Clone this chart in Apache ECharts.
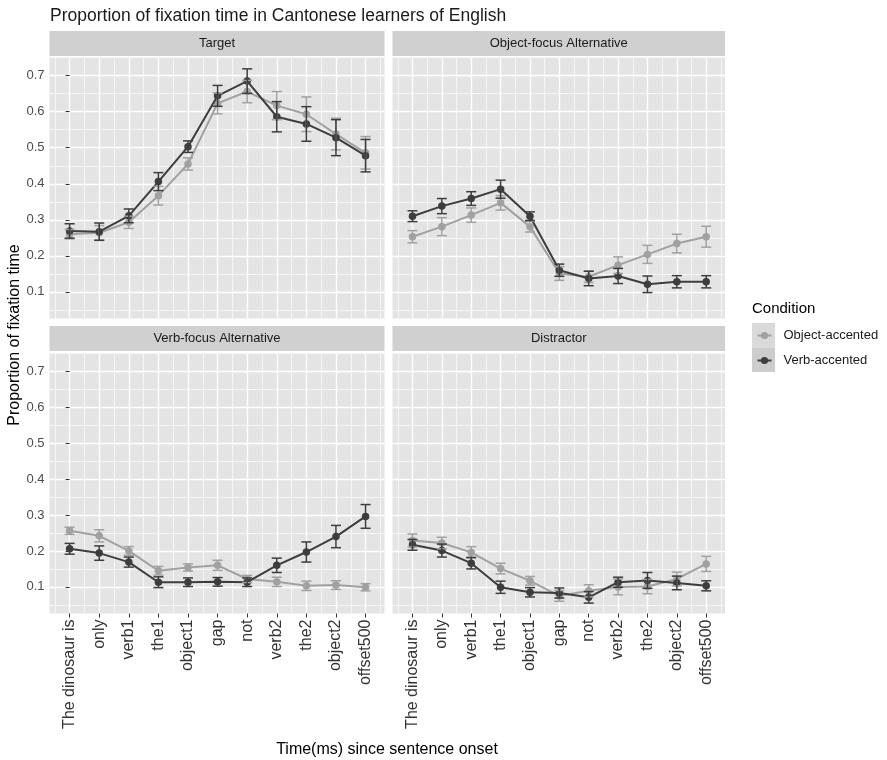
<!DOCTYPE html>
<html>
<head>
<meta charset="utf-8">
<script src="https://cdn.jsdelivr.net/npm/echarts@6/dist/echarts.min.js"></script>
<style>
  html, body { margin: 0; padding: 0; background: #ffffff; }
  #chart { width: 887px; height: 760px; }
</style>
</head>
<body>
<div id="chart"></div>
<script>
// Word regions along the sentence (x axis)
const categories = ['The dinosaur is', 'only', 'verb1', 'the1', 'object1', 'gap', 'not', 'verb2', 'the2', 'object2', 'offset500'];
// Facet titles
const panelNames = ['Target', 'Object-focus Alternative', 'Verb-focus Alternative', 'Distractor'];
const conditions = ['Object-accented', 'Verb-accented'];
const yTicks = [0.1, 0.2, 0.3, 0.4, 0.5, 0.6, 0.7];

// Target
const targetObj    = [0.260, 0.264, 0.293, 0.367, 0.455, 0.623, 0.656, 0.617, 0.593, 0.538, 0.486];
const targetObjSE  = [0.013, 0.020, 0.017, 0.026, 0.017, 0.029, 0.031, 0.039, 0.048, 0.044, 0.045];
const targetVerb   = [0.269, 0.267, 0.311, 0.406, 0.503, 0.644, 0.685, 0.586, 0.566, 0.528, 0.478];
const targetVerbSE = [0.020, 0.024, 0.019, 0.025, 0.016, 0.029, 0.034, 0.042, 0.048, 0.050, 0.045];

// Object-focus Alternative
const objFocusObj    = [0.253, 0.281, 0.313, 0.347, 0.281, 0.151, 0.142, 0.174, 0.204, 0.234, 0.253];
const objFocusObjSE  = [0.017, 0.025, 0.020, 0.020, 0.015, 0.019, 0.016, 0.023, 0.025, 0.026, 0.029];
const objFocusVerb   = [0.310, 0.338, 0.359, 0.385, 0.310, 0.160, 0.137, 0.144, 0.121, 0.128, 0.128];
const objFocusVerbSE = [0.015, 0.021, 0.019, 0.025, 0.012, 0.017, 0.020, 0.021, 0.023, 0.017, 0.017];

// Verb-focus Alternative
const verbFocusObj    = [0.256, 0.242, 0.200, 0.145, 0.154, 0.160, 0.122, 0.114, 0.103, 0.105, 0.099];
const verbFocusObjSE  = [0.010, 0.017, 0.012, 0.012, 0.010, 0.014, 0.010, 0.013, 0.013, 0.012, 0.010];
const verbFocusVerb   = [0.206, 0.194, 0.169, 0.113, 0.113, 0.114, 0.113, 0.160, 0.197, 0.240, 0.296];
const verbFocusVerbSE = [0.015, 0.020, 0.014, 0.015, 0.012, 0.012, 0.012, 0.020, 0.028, 0.031, 0.033];

// Distractor
const distObj    = [0.229, 0.222, 0.196, 0.151, 0.117, 0.075, 0.089, 0.100, 0.101, 0.122, 0.164];
const distObjSE  = [0.018, 0.016, 0.016, 0.015, 0.012, 0.015, 0.017, 0.022, 0.020, 0.019, 0.021];
const distVerb   = [0.217, 0.201, 0.166, 0.099, 0.085, 0.083, 0.071, 0.113, 0.118, 0.111, 0.103];
const distVerbSE = [0.015, 0.018, 0.016, 0.017, 0.013, 0.014, 0.016, 0.014, 0.022, 0.019, 0.014];

const panelData = [
  [[targetObj, targetObjSE], [targetVerb, targetVerbSE]],
  [[objFocusObj, objFocusObjSE], [objFocusVerb, objFocusVerbSE]],
  [[verbFocusObj, verbFocusObjSE], [verbFocusVerb, verbFocusVerbSE]],
  [[distObj, distObjSE], [distVerb, distVerbSE]]
];

const FONT = "'Liberation Sans', Arial, Helvetica, sans-serif";
const COLORS = ['#a1a1a1', '#3d3d3d'];
const X_MIN = -0.68, X_MAX = 10.64;
const Y_MIN = 0.026, Y_MAX = 0.7505;

// Facet layout: column and row positions
const colLeft = [49.5, 392.5], colWidth = [335, 332.5];
const rowTop = [57.5, 353], rowHeight = [261, 260.5];
const stripTop = [31, 326], stripHeight = 25;

const majorX = categories.map((c, i) => i);
const minorX = [];
for (let i = -1; i < categories.length; i++) minorX.push(i + 0.5);
const minorY = [0.05, 0.15, 0.25, 0.35, 0.45, 0.55, 0.65, 0.75];

const grids = [], xAxes = [], yAxes = [], series = [], graphics = [];

panelNames.forEach((name, p) => {
  const col = p % 2, row = Math.floor(p / 2);
  const isBottom = row === 1, isLeft = col === 0;
  grids.push({
    left: colLeft[col], top: rowTop[row], width: colWidth[col], height: rowHeight[row],
    show: true, backgroundColor: '#e4e4e4', borderWidth: 0, containLabel: false
  });

  // main x axis (categories at integer positions)
  xAxes.push({
    type: 'value', gridIndex: p, min: X_MIN, max: X_MAX, position: 'bottom',
    axisLine: { show: false },
    axisTick: { show: isBottom, customValues: majorX, length: 4, lineStyle: { color: '#333333', width: 1 } },
    axisLabel: {
      show: isBottom, customValues: majorX, rotate: 90, margin: 6,
      fontSize: 16, fontFamily: FONT, color: '#333333',
      formatter: v => categories[Math.round(v)]
    },
    splitLine: { show: true, lineStyle: { color: '#ffffff', width: 1.4 } }
  });
  // minor x gridlines between categories
  xAxes.push({
    type: 'value', gridIndex: p, min: X_MIN, max: X_MAX, position: 'top',
    axisLine: { show: false },
    axisTick: { show: false, customValues: minorX },
    axisLabel: { show: false, customValues: minorX },
    splitLine: { show: true, lineStyle: { color: '#f7f7f7', width: 0.9 } }
  });

  yAxes.push({
    type: 'value', gridIndex: p, min: Y_MIN, max: Y_MAX, position: 'left',
    axisLine: { show: false },
    axisTick: { show: isLeft, customValues: yTicks, length: 4, lineStyle: { color: '#333333', width: 1 } },
    axisLabel: {
      show: isLeft, customValues: yTicks, margin: 5,
      fontSize: 13, fontFamily: FONT, color: '#4d4d4d',
      formatter: v => v.toFixed(1)
    },
    splitLine: { show: true, lineStyle: { color: '#ffffff', width: 1.4 } }
  });
  yAxes.push({
    type: 'value', gridIndex: p, min: Y_MIN, max: Y_MAX, position: 'right',
    axisLine: { show: false },
    axisTick: { show: false, customValues: minorY },
    axisLabel: { show: false, customValues: minorY },
    splitLine: { show: true, lineStyle: { color: '#f7f7f7', width: 0.9 } }
  });

  // lines with points
  panelData[p].forEach(([vals], c) => {
    series.push({
      type: 'line', name: conditions[c], xAxisIndex: 2 * p, yAxisIndex: 2 * p,
      data: vals.map((v, i) => [i, v]),
      symbol: 'circle', symbolSize: 7.5, showSymbol: true,
      lineStyle: { color: COLORS[c], width: 2 },
      itemStyle: { color: COLORS[c] },
      emphasis: { disabled: true }, silent: true, z: 3 + c
    });
  });
  // error bars (mean ± SE)
  panelData[p].forEach(([vals, se], c) => {
    series.push({
      type: 'custom', name: conditions[c], xAxisIndex: 2 * p, yAxisIndex: 2 * p,
      data: vals.map((v, i) => [i, v - se[i], v + se[i]]),
      encode: { x: 0, y: [1, 2] },
      silent: true, z: 5 + c,
      renderItem: (params, api) => {
        const x = api.value(0);
        const lo = api.coord([x, api.value(1)]);
        const hi = api.coord([x, api.value(2)]);
        const half = api.size([0.34, 0])[0] / 2;
        const style = { stroke: COLORS[c], lineWidth: 1.5, fill: null };
        return {
          type: 'group',
          children: [
            { type: 'line', shape: { x1: lo[0], y1: lo[1], x2: hi[0], y2: hi[1] }, style },
            { type: 'line', shape: { x1: lo[0] - half, y1: lo[1], x2: lo[0] + half, y2: lo[1] }, style },
            { type: 'line', shape: { x1: hi[0] - half, y1: hi[1], x2: hi[0] + half, y2: hi[1] }, style }
          ]
        };
      }
    });
  });

  // facet strip
  graphics.push({
    type: 'rect', silent: true,
    shape: { x: colLeft[col], y: stripTop[row], width: colWidth[col], height: stripHeight },
    style: { fill: '#d0d0d0' }
  });
  graphics.push({
    type: 'text', silent: true,
    style: {
      text: name, x: colLeft[col] + colWidth[col] / 2, y: stripTop[row] + stripHeight / 2,
      align: 'center', verticalAlign: 'middle', textAlign: 'center', textVerticalAlign: 'middle',
      fontSize: 13, fontFamily: FONT, fill: '#1a1a1a'
    }
  });
});

// axis titles
graphics.push({
  type: 'text', silent: true, x: 15, y: 335, rotation: Math.PI / 2,
  style: {
    text: 'Proportion of fixation time', x: 0, y: 0,
    align: 'center', verticalAlign: 'middle', textAlign: 'center', textVerticalAlign: 'middle',
    fontSize: 16, fontFamily: FONT, fill: '#000000'
  }
});
graphics.push({
  type: 'text', silent: true,
  style: {
    text: 'Time(ms) since sentence onset', x: 387, y: 750,
    align: 'center', verticalAlign: 'middle', textAlign: 'center', textVerticalAlign: 'middle',
    fontSize: 16, fontFamily: FONT, fill: '#000000'
  }
});

// legend title and key backgrounds
graphics.push({
  type: 'text', silent: true,
  style: {
    text: 'Condition', x: 752, y: 309,
    align: 'left', verticalAlign: 'middle', textAlign: 'left', textVerticalAlign: 'middle',
    fontSize: 15, fontFamily: FONT, fill: '#000000'
  }
});
graphics.push({ type: 'rect', silent: true, z: -1, shape: { x: 752, y: 323, width: 23, height: 25 }, style: { fill: '#dadada' } });
graphics.push({ type: 'rect', silent: true, z: -1, shape: { x: 752, y: 348, width: 23, height: 24 }, style: { fill: '#cdcdcd' } });

const legendBase = {
  orient: 'vertical', left: 756.5, itemWidth: 14, itemHeight: 9, padding: 0,
  selectedMode: false,
  textStyle: { fontSize: 13, fontFamily: FONT, color: '#1a1a1a', padding: [0, 0, 0, 7] }
};

const option = {
  animation: false,
  backgroundColor: '#ffffff',
  title: {
    text: 'Proportion of fixation time in Cantonese learners of English',
    left: 50, top: 7, padding: 0,
    textStyle: { fontSize: 17.5, fontWeight: 'normal', fontFamily: FONT, color: '#1a1a1a' }
  },
  legend: [
    Object.assign({}, legendBase, { data: [conditions[0]], top: 329 }),
    Object.assign({}, legendBase, { data: [conditions[1]], top: 354 })
  ],
  grid: grids,
  xAxis: xAxes,
  yAxis: yAxes,
  series: series,
  graphic: { elements: graphics }
};

const chart = echarts.init(document.getElementById('chart'), null, { renderer: 'canvas' });
chart.setOption(option);
</script>
</body>
</html>
